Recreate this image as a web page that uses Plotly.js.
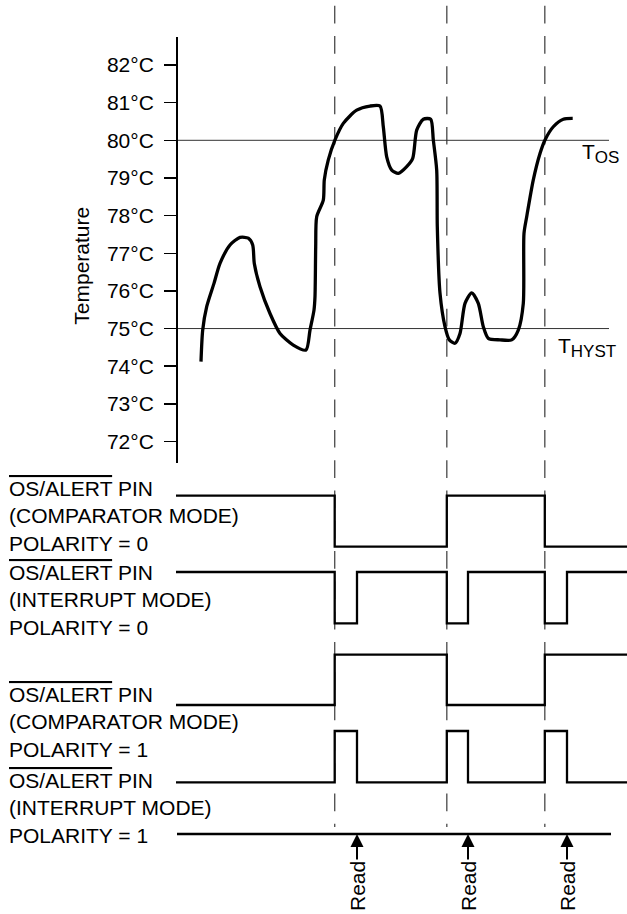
<!DOCTYPE html>
<html>
<head>
<meta charset="utf-8">
<script src="https://cdn.plot.ly/plotly-3.0.1.min.js"></script>
<style>html,body{margin:0;padding:0;background:#fff;}#chart{width:627px;height:914px;}</style>
</head>
<body>
<div id="chart"></div>
<script>
// ---------- DATA ----------
// temperature trace (time in arbitrary units, temperature in °C)
const curveTime = [201, 202.7, 206.7, 214, 220, 230, 240, 248.3, 252.7, 254.3, 260, 270, 280, 293.3, 306,
  310, 314, 315, 315.7, 316.7, 323.3, 324.3, 328.3, 335, 343.3, 356.7, 370, 380, 383.3, 386.7, 391.7, 398.3,
  406.7, 412.7, 416.7, 423.3, 430.7, 433.3, 436.7, 437.3, 440, 445, 449.3, 455, 460, 465, 471.7, 478.3, 483.3,
  488.3, 500, 511.7, 518.3, 523.3, 524, 526.7, 533.3, 540, 545, 553.3, 563.3, 572.7];
const curveTemp = [74.12, 74.96, 75.58, 76.20, 76.73, 77.22, 77.42, 77.40, 77.22, 76.73, 76.11, 75.40, 74.87, 74.56, 74.43,
  74.96, 75.49, 75.85, 77.17, 77.97, 78.41, 78.95, 79.48, 80.01, 80.45, 80.80, 80.91, 80.91, 80.36, 79.56, 79.21, 79.12,
  79.30, 79.52, 80.27, 80.56, 80.56, 80.01, 79.21, 77.71, 75.94, 75.05, 74.70, 74.61, 74.87, 75.67, 75.95, 75.67, 75.05,
  74.74, 74.70, 74.70, 74.96, 75.67, 77.53, 77.97, 78.95, 79.65, 80.01, 80.36, 80.56, 80.58];

const tempTicks = [72, 73, 74, 75, 76, 77, 78, 79, 80, 81, 82];
const tempTickLabels = ['72°C', '73°C', '74°C', '75°C', '76°C', '77°C', '78°C', '79°C', '80°C', '81°C', '82°C'];

const thresholdTime = [176, 609];
const T_OS = 80;
const T_HYST = 75;

const crossTimes = [334.7, 446.8, 544.8];   // threshold crossings
const readTimes = [357, 468, 567];           // serial reads

// digital pin states (1 = high, 0 = low)
const compTime = [176, 334.7, 446.8, 544.8, 627];
const compPol0 = [1, 0, 1, 0, 0];
const compPol1 = [0, 1, 0, 1, 1];
const intTime = [176, 334.7, 357, 446.8, 468, 544.8, 567, 627];
const intPol0 = [1, 0, 1, 0, 1, 0, 1, 1];
const intPol1 = [0, 1, 0, 1, 0, 1, 0, 0];

const busTime = [177, 611];
const busLevel = [0, 0];

const pinLabels = [
  '<span style="text-decoration:overline">OS/ALERT</span> PIN<br>(COMPARATOR MODE)<br>POLARITY = 0',
  '<span style="text-decoration:overline">OS/ALERT</span> PIN<br>(INTERRUPT MODE)<br>POLARITY = 0',
  '<span style="text-decoration:overline">OS/ALERT</span> PIN<br>(COMPARATOR MODE)<br>POLARITY = 1',
  '<span style="text-decoration:overline">OS/ALERT</span> PIN<br>(INTERRUPT MODE)<br>POLARITY = 1'
];

// ---------- LAYOUT HELPERS ----------
const W = 627, H = 914;
const FONT = '"Liberation Sans", Arial, Helvetica, sans-serif';
const FS = 21;
function py(px) { return 1 - px / H; }
function sigDomain(highPx, lowPx) {
  const u = lowPx - highPx;
  return [py(lowPx + 0.2 * u), py(highPx - 0.2 * u)];
}
const sigRange = [-0.2, 1.2];

const black = '#000';
const traces = [
  {x: thresholdTime, y: [T_OS, T_OS], xaxis: 'x', yaxis: 'y', mode: 'lines', line: {color: '#333', width: 1}, hoverinfo: 'skip'},
  {x: thresholdTime, y: [T_HYST, T_HYST], xaxis: 'x', yaxis: 'y', mode: 'lines', line: {color: '#333', width: 1}, hoverinfo: 'skip'},
  {x: curveTime, y: curveTemp, xaxis: 'x', yaxis: 'y', mode: 'lines', line: {color: black, width: 3.3, shape: 'spline', smoothing: 0.7}},
  {x: compTime, y: compPol0, xaxis: 'x', yaxis: 'y2', mode: 'lines', line: {color: black, width: 2.3, shape: 'hv'}},
  {x: intTime, y: intPol0, xaxis: 'x', yaxis: 'y3', mode: 'lines', line: {color: black, width: 2.3, shape: 'hv'}},
  {x: compTime, y: compPol1, xaxis: 'x', yaxis: 'y4', mode: 'lines', line: {color: black, width: 2.3, shape: 'hv'}},
  {x: intTime, y: intPol1, xaxis: 'x', yaxis: 'y5', mode: 'lines', line: {color: black, width: 2.3, shape: 'hv'}},
  {x: busTime, y: busLevel, xaxis: 'x', yaxis: 'y6', mode: 'lines', line: {color: black, width: 2.3}}
];

const hiddenY = (dom, rng) => ({domain: dom, range: rng, visible: false, fixedrange: true});

const shapes = crossTimes.map(t => ({
  type: 'line', xref: 'x', yref: 'paper', x0: t, x1: t, y0: py(5.7), y1: py(827),
  line: {color: '#555', width: 1.4, dash: '17.7px,12.6px'}, layer: 'below'
}));

const annotations = [];
const labelCenters = [516.2, 600.4, 721.7, 808];
pinLabels.forEach((txt, i) => annotations.push({
  xref: 'paper', yref: 'paper', x: 7 / W, y: py(labelCenters[i]), xanchor: 'left', yanchor: 'middle',
  align: 'left', text: txt, showarrow: false, font: {family: FONT, size: FS, color: black}
}));
readTimes.forEach(t => annotations.push({
  xref: 'x', yref: 'y6', x: t, y: 0, text: 'Read', textangle: -90, showarrow: true,
  ax: 0, ay: 52, arrowhead: 2, arrowwidth: 2, arrowsize: 1.3, arrowcolor: black,
  font: {family: FONT, size: FS, color: black}
}));
annotations.push({xref: 'paper', yref: 'paper', x: 580 / W, y: py(153), xanchor: 'left', yanchor: 'middle',
  text: 'T<sub><span style="font-size:17px">OS</span></sub>', showarrow: false, font: {family: FONT, size: FS, color: black}});
annotations.push({xref: 'paper', yref: 'paper', x: 556 / W, y: py(347), xanchor: 'left', yanchor: 'middle',
  text: 'T<sub><span style="font-size:17px">HYST</span></sub>', showarrow: false, font: {family: FONT, size: FS, color: black}});
annotations.push({xref: 'paper', yref: 'paper', x: 80.7 / W, y: py(266), xanchor: 'center', yanchor: 'middle',
  text: 'Temperature', textangle: -90, showarrow: false, font: {family: FONT, size: FS, color: black}});

const layout = {
  width: W, height: H,
  margin: {l: 0, r: 0, t: 0, b: 0, pad: 0},
  paper_bgcolor: '#fff', plot_bgcolor: 'rgba(0,0,0,0)',
  showlegend: false,
  font: {family: FONT, size: FS, color: black},
  xaxis: {domain: [0, 1], range: [0, W], visible: false, fixedrange: true},
  yaxis: {
    domain: [py(463), py(37)], range: [82 - (463 - 65) / 37.65, 82 + (65 - 37) / 37.65],
    anchor: 'free', position: 176 / W, side: 'left',
    tickmode: 'array', tickvals: tempTicks, ticktext: tempTickLabels,
    ticks: 'outside', ticklen: 12, tickwidth: 1.5, tickcolor: black,
    showline: true, linecolor: black, linewidth: 1.6, showgrid: false, zeroline: false,
    tickfont: {family: FONT, size: FS, color: black}, ticklabelstandoff: 6, fixedrange: true
  },
  yaxis2: hiddenY(sigDomain(495.7, 546.7), sigRange),
  yaxis3: hiddenY(sigDomain(572, 623.3), sigRange),
  yaxis4: hiddenY(sigDomain(654.7, 705), sigRange),
  yaxis5: hiddenY(sigDomain(731, 782.3), sigRange),
  yaxis6: hiddenY([py(844), py(824)], [-1, 1]),
  shapes: shapes,
  annotations: annotations
};

Plotly.newPlot('chart', traces, layout, {staticPlot: true, displayModeBar: false});
</script>
</body>
</html>
